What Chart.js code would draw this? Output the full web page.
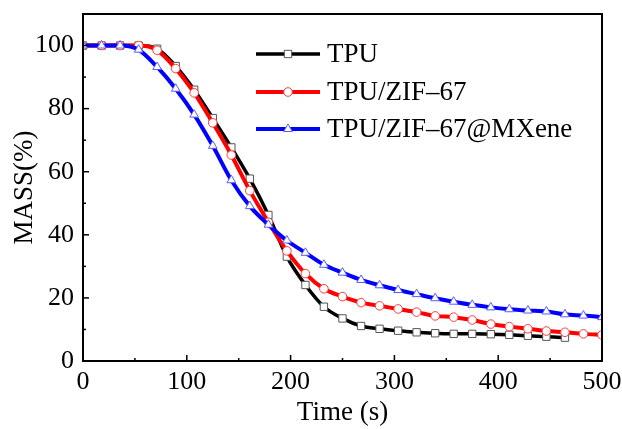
<!DOCTYPE html>
<html>
<head>
<meta charset="utf-8">
<script src="https://cdn.jsdelivr.net/npm/chart.js@4/dist/chart.umd.min.js"></script>
<style>
  html, body { margin: 0; padding: 0; background: #fff; }
  #wrap { width: 622px; height: 429px; }
</style>
</head>
<body>
<div id="wrap"><canvas id="tga"></canvas></div>
<script>
// time points (s) where markers sit
const timeS = [0, 17.9, 35.7, 53.6, 71.4, 89.3, 107.1, 125, 142.9, 160.7, 178.6, 196.4, 214.3, 232.1,
  250, 267.9, 285.7, 303.6, 321.4, 339.3, 357.1, 375, 392.9, 410.7, 428.6, 446.4, 464.3, 482.1, 500];

// mass (%)
const tpu = [100, 100, 100, 100, 99, 93.5, 86, 77, 67.7, 57.8, 46.3, 33.1, 24.1, 17.2,
  13.5, 11.1, 10.2, 9.6, 9.1, 8.8, 8.6, 8.6, 8.5, 8.3, 8.0, 7.7, 7.4];
const tpuZif = [100, 100, 100, 100, 98.5, 92.7, 85, 75.5, 65.3, 54, 44, 34.9, 27.7, 22.9,
  20.4, 18.5, 17.5, 16.5, 15.5, 14.3, 13.9, 13.0, 11.7, 10.9, 10.2, 9.5, 9.1, 8.6, 8.3];
const tpuZifMx = [100, 100, 100, 98.7, 93.2, 86.3, 78.1, 68.2, 57.3, 49.1, 43.2, 38.2, 34.3, 30.5,
  28, 25.7, 24, 22.5, 21.2, 19.9, 18.8, 17.8, 17, 16.4, 16, 15.7, 14.8, 14.4, 13.9];

const seriesNames = ['TPU', 'TPU/ZIF\u201367', 'TPU/ZIF\u201367@MXene'];
const xTicks = [0, 100, 200, 300, 400, 500];
const yTicks = [0, 20, 40, 60, 80, 100];

const serif = '"Liberation Serif", "Times New Roman", serif';

function pts(ys) {
  return ys.map((v, i) => ({ x: timeS[i], y: v }));
}

// no extra room for label overhang, layout padding decides the plot box
function noOverhang(s) {
  s.paddingTop = 0;
  s.paddingBottom = 0;
  s.paddingLeft = 0;
  s.paddingRight = 0;
}

// frame, inward ticks and the legend inside the plot
const framePlugin = {
  id: 'frame',
  afterDatasetsDraw(chart) {
    const { ctx, chartArea: a, scales } = chart;
    ctx.save();
    ctx.strokeStyle = '#000';
    ctx.lineWidth = 1.5;
    for (let v = 0; v <= 500; v += 50) {
      const px = scales.x.getPixelForValue(v);
      const len = v % 100 === 0 ? 6 : 3;
      ctx.beginPath();
      ctx.moveTo(px, a.bottom);
      ctx.lineTo(px, a.bottom - len);
      ctx.stroke();
    }
    for (let v = 0; v <= 110; v += 10) {
      const py = scales.y.getPixelForValue(v);
      const len = v % 20 === 0 ? 6 : 3;
      ctx.beginPath();
      ctx.moveTo(a.left, py);
      ctx.lineTo(a.left + len, py);
      ctx.stroke();
    }
    ctx.lineWidth = 2;
    ctx.strokeRect(a.left, a.top, a.right - a.left, a.bottom - a.top);

    // legend
    const rows = [54, 92, 129];
    const byOrder = [0, 1, 2].map(i => chart.data.datasets[i]);
    byOrder.forEach((ds, i) => {
      const y = rows[i];
      ctx.strokeStyle = ds.borderColor;
      ctx.lineWidth = ds.borderWidth;
      ctx.beginPath();
      ctx.moveTo(256, y);
      ctx.lineTo(320, y);
      ctx.stroke();
      ctx.fillStyle = ds.pointBackgroundColor;
      ctx.strokeStyle = ds.pointBorderColor;
      ctx.lineWidth = ds.pointBorderWidth;
      Chart.helpers.drawPoint(ctx, { pointStyle: ds.pointStyle, radius: ds.pointRadius, borderWidth: 1 }, 288, y);
      ctx.fillStyle = '#000';
      ctx.font = '27px ' + serif;
      ctx.textBaseline = 'middle';
      ctx.textAlign = 'left';
      ctx.fillText(ds.label, 327, y + 1);
    });
    ctx.restore();
  }
};

const ctx = document.getElementById('tga').getContext('2d');
new Chart(ctx, {
  type: 'line',
  data: {
    datasets: [
      {
        label: seriesNames[0], data: pts(tpu), order: 2,
        borderColor: '#000', borderWidth: 3.5,
        pointStyle: 'rect', pointRadius: 5.2, pointBorderColor: '#555',
        pointBackgroundColor: '#fff', pointBorderWidth: 1
      },
      {
        label: seriesNames[1], data: pts(tpuZif), order: 1,
        borderColor: '#ff0000', borderWidth: 4,
        pointStyle: 'circle', pointRadius: 4.3, pointBorderColor: '#ff3b3b',
        pointBackgroundColor: '#fff', pointBorderWidth: 1
      },
      {
        label: seriesNames[2], data: pts(tpuZifMx), order: 0,
        borderColor: '#0000ff', borderWidth: 4,
        pointStyle: 'triangle', pointRadius: 5, pointBorderColor: '#5a5aff',
        pointBackgroundColor: '#fff', pointBorderWidth: 1
      }
    ]
  },
  options: {
    responsive: true,
    maintainAspectRatio: false,
    animation: false,
    devicePixelRatio: 1,
    layout: { padding: { top: 14, right: 20, left: 0, bottom: 0 } },
    plugins: { legend: { display: false }, tooltip: { enabled: false } },
    elements: { line: { cubicInterpolationMode: 'monotone' } },
    scales: {
      x: {
        type: 'linear', min: 0, max: 500,
        afterBuildTicks: s => { s.ticks = xTicks.map(v => ({ value: v })); },
        afterFit: s => { s.height = 68; noOverhang(s); },
        grid: { display: false, drawTicks: false },
        border: { display: false },
        ticks: { color: '#000', padding: 6, maxRotation: 0, font: { family: serif, size: 26 } },
        title: { display: true, text: 'Time (s)', color: '#000',
          font: { family: serif, size: 27, lineHeight: 1 }, padding: { top: 0, bottom: 3 } }
      },
      y: {
        type: 'linear', min: 0, max: 110,
        afterBuildTicks: s => { s.ticks = yTicks.map(v => ({ value: v })); },
        afterFit: s => { s.width = 83; noOverhang(s); },
        grid: { display: false, drawTicks: false },
        border: { display: false },
        ticks: { color: '#000', padding: 9, font: { family: serif, size: 26 } },
        title: { display: true, text: 'MASS(%)', color: '#000',
          font: { family: serif, size: 27, lineHeight: 1 }, padding: { top: 11, bottom: 0 } }
      }
    }
  },
  plugins: [framePlugin]
});
</script>
</body>
</html>
